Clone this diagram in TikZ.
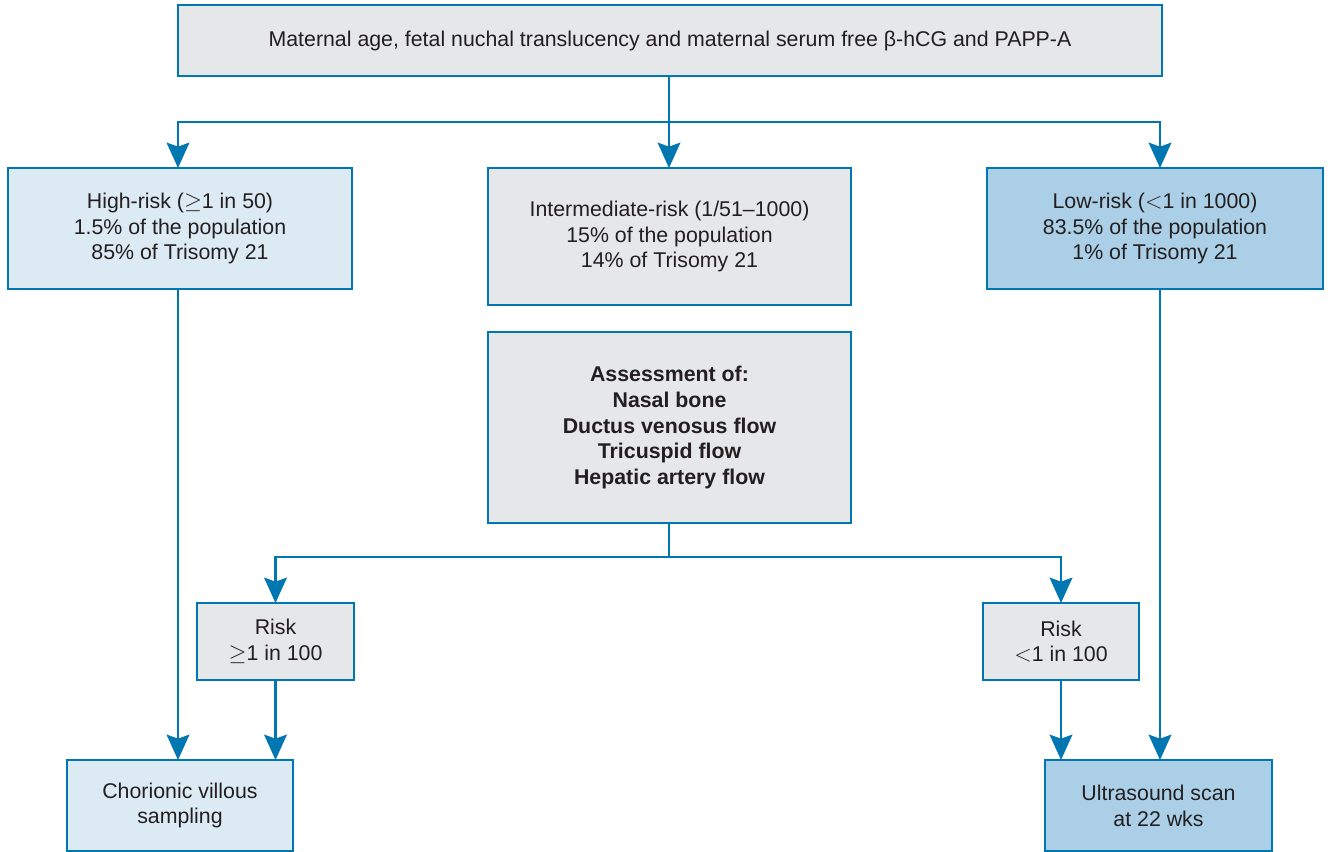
\documentclass[tikz,border=0pt]{standalone}
\usepackage{fontspec}
\setmainfont{Liberation Sans}
\usetikzlibrary{arrows.meta}
\definecolor{lineblue}{HTML}{0077B0}
\definecolor{boxgray}{HTML}{E6E7E8}
\definecolor{boxlight}{HTML}{DCEAF4}
\definecolor{boxmid}{HTML}{AACFE6}
\definecolor{txt}{HTML}{231F20}
\begin{document}
\begin{tikzpicture}[x=0.75pt,y=-0.75pt,
  box/.style={draw=lineblue,line width=2.2pt,inner sep=0pt,outer sep=0pt,align=center,
    font=\fontsize{16}{19.3}\selectfont,text=txt},
  conn/.style={draw=lineblue,line width=2pt},
  arr/.style={conn,-{Stealth[length=19pt,width=17pt,inset=3pt]}}]
\useasboundingbox (0,0) rectangle (1330,851);
% boxes
\node[box,fill=boxgray,minimum width=984*0.75pt,minimum height=71*0.75pt] (top) at (670,40.5) {Maternal age, fetal nuchal translucency and maternal serum free β-hCG and PAPP-A};
\node[box,fill=boxlight,minimum width=344*0.75pt,minimum height=121*0.75pt] (high) at (180,228.5) {High-risk ($\geq$1 in 50)\\1.5\% of the population\\85\% of Trisomy 21};
\node[box,fill=boxgray,minimum width=363*0.75pt,minimum height=137*0.75pt] (mid) at (669.5,236.5) {Intermediate-risk (1/51–1000)\\15\% of the population\\14\% of Trisomy 21};
\node[box,fill=boxmid,minimum width=336*0.75pt,minimum height=121*0.75pt] (low) at (1155,228.5) {Low-risk ($<$1 in 1000)\\83.5\% of the population\\1\% of Trisomy 21};
\node[box,fill=boxgray,minimum width=363*0.75pt,minimum height=191*0.75pt,font=\fontsize{16}{19.3}\selectfont\bfseries] (assess) at (669.5,427.5) {Assessment of:\\Nasal bone\\Ductus venosus flow\\Tricuspid flow\\Hepatic artery flow};
\node[box,fill=boxgray,minimum width=157*0.75pt,minimum height=77*0.75pt] (rhi) at (275.5,641.5) {Risk\\$\geq$1 in 100};
\node[box,fill=boxgray,minimum width=156*0.75pt,minimum height=77*0.75pt] (rlo) at (1061,641.5) {Risk\\$<$1 in 100};
\node[box,fill=boxlight,minimum width=226*0.75pt,minimum height=91*0.75pt] (cvs) at (180,805.5) {Chorionic villous\\sampling};
\node[box,fill=boxmid,minimum width=227*0.75pt,minimum height=91*0.75pt] (us) at (1158.5,805.5) {Ultrasound scan\\at 22 wks};
% connectors
\coordinate (j1) at (669,122);
\coordinate (j2) at (669,557);
\draw[conn] (top.south -| j1) -- (j1);
\draw[arr] (j1) -| (high.north -| 178,0);
\draw[arr] (j1) -- (mid.north -| j1);
\draw[arr] (j1) -| (low.north -| 1160,0);
\draw[arr] (high.south -| 178,0) -- (cvs.north -| 178,0);
\draw[arr] (low.south -| 1160,0) -- (us.north -| 1160,0);
\draw[conn] (assess.south -| j2) -- (j2);
\draw[arr] (j2) -| (rhi.north);
\draw[arr] (j2) -| (rlo.north);
\draw[arr] (rhi.south) -- (cvs.north -| rhi.south);
\draw[arr] (rlo.south) -- (us.north -| rlo.south);
\end{tikzpicture}
\end{document}
